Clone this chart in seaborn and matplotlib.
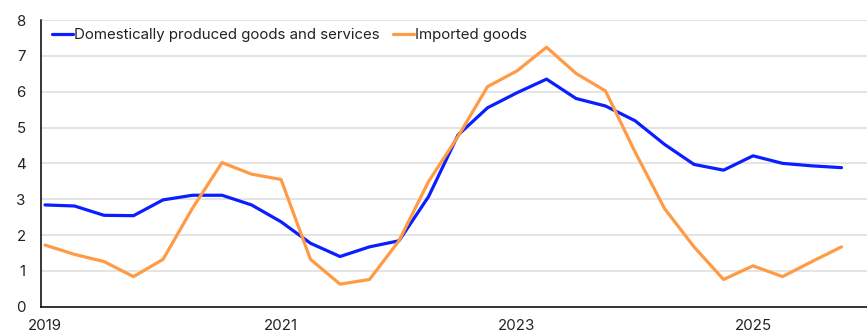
import numpy as np
import pandas as pd
import matplotlib
matplotlib.use("Agg")
import matplotlib.pyplot as plt
import seaborn as sns

# Quarterly observations, 2019 Q1 - 2025 Q4 (four-quarter change, per cent)
years = [2019, 2020, 2021, 2022, 2023, 2024, 2025]
quarters = [1, 2, 3, 4]
domestic = [2.84, 2.81, 2.55, 2.54, 2.98, 3.11, 3.11, 2.84,
            2.37, 1.77, 1.40, 1.67, 1.84, 3.07, 4.79, 5.55,
            5.97, 6.35, 5.81, 5.60, 5.19, 4.53, 3.97, 3.81,
            4.21, 4.00, 3.93, 3.88]
imported = [1.72, 1.46, 1.26, 0.84, 1.32, 2.75, 4.02, 3.70,
            3.55, 1.32, 0.63, 0.76, 1.84, 3.49, 4.75, 6.14,
            6.58, 7.24, 6.51, 6.02, 4.32, 2.74, 1.67, 0.76,
            1.14, 0.84, 1.26, 1.67]
tick_years = [2019, 2021, 2023, 2025]
yticks = [0, 1, 2, 3, 4, 5, 6, 7, 8]
series_names = ["Domestically produced goods and services", "Imported goods"]
colors = ["#0a1eff", "#ff9a45"]

x = [y + (q - 1) / 4 for y in years for q in quarters]
df = pd.DataFrame({"x": x, series_names[0]: domestic, series_names[1]: imported})
long = df.melt(id_vars="x", var_name="series", value_name="value")

sns.set_theme(style="white")
plt.rcParams["font.family"] = ["Inter", "DejaVu Sans"]
plt.rcParams["font.size"] = 10.8

fig = plt.figure(figsize=(8.67, 3.34), dpi=100)
ax = fig.add_axes([41 / 867, (334 - 306.7) / 334, 1 - 41 / 867, 286.7 / 334])

sns.lineplot(data=long, x="x", y="value", hue="series", hue_order=series_names,
             palette=colors, linewidth=2.3, ax=ax, legend=True)

ax.set_xlim(2019 - 0.034, 2025.966)
ax.set_ylim(0, 8)
ax.set_yticks(yticks)
ax.set_yticklabels([str(v) for v in yticks])
ax.yaxis.grid(True, color="#dcdcdc", linewidth=1.1)
ax.set_axisbelow(True)
ax.set_xlabel("")
ax.set_ylabel("")

# labels on the years, tick marks slightly before them
ax.set_xticks(tick_years)
ax.set_xticklabels([str(t) for t in tick_years])
ax.set_xticks([t - 0.034 for t in tick_years], minor=True)
ax.tick_params(axis="x", which="major", length=0, pad=9, labelsize=10.8, colors="#222222")
ax.tick_params(axis="x", which="minor", direction="in", length=5, width=1, color="black")
ax.tick_params(axis="y", which="major", direction="in", length=4, width=1, color="black",
               pad=11, labelsize=10.8, labelcolor="#222222")

for side in ["top", "right"]:
    ax.spines[side].set_visible(False)
for side in ["left", "bottom"]:
    ax.spines[side].set_color("black")
    ax.spines[side].set_linewidth(1.1)

ax.legend(title=None, loc="center left", bbox_to_anchor=(0.0133, 0.948), ncol=2,
          frameon=False, borderaxespad=0, borderpad=0, handlelength=1.4,
          handletextpad=0.1, columnspacing=0.85, fontsize=10.8)
for t in ax.get_legend().get_texts():
    t.set_color("#222222")

fig.savefig("out.png", dpi=100)
